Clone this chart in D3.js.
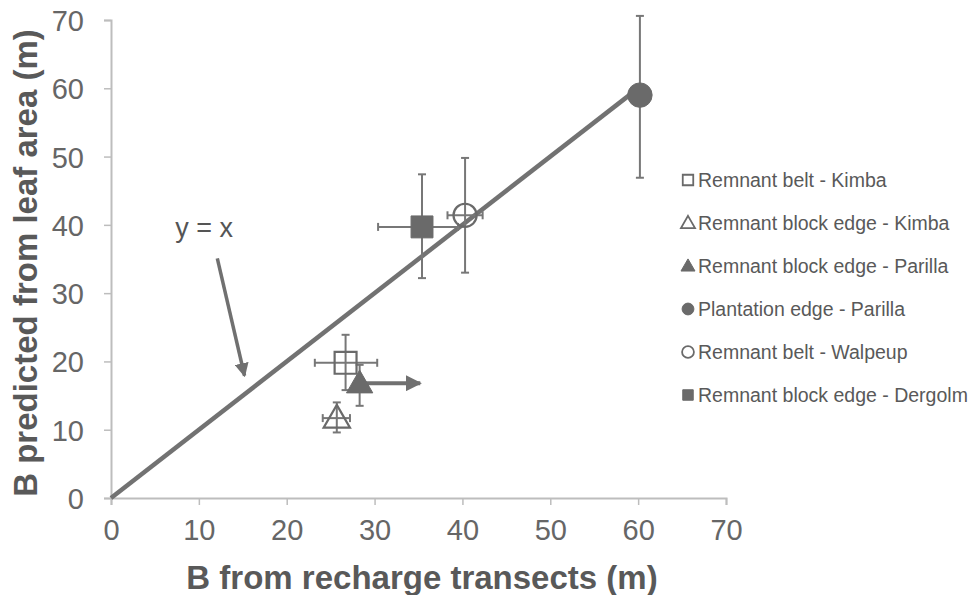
<!DOCTYPE html>
<html>
<head>
<meta charset="utf-8">
<script src="https://cdn.jsdelivr.net/npm/d3@7"></script>
<style>
  body { margin: 0; background: #fff; }
  svg { font-family: "Liberation Sans", Arial, sans-serif; }
</style>
</head>
<body>
<svg id="chart" width="968" height="595"></svg>
<script>
// series
var names = ["Remnant belt - Kimba", "Remnant block edge - Kimba", "Remnant block edge - Parilla",
             "Plantation edge - Parilla", "Remnant belt - Walpeup", "Remnant block edge - Dergolm"];
var symbols = ["square", "triangle", "triangle", "circle", "circle", "square"];
var filled = [false, false, true, true, false, true];
var xVals = [26.7, 25.7, 28.3, 60.2, 40.3, 35.4];
var yVals = [19.8, 11.7, 16.8, 59.0, 41.4, 39.7];
var xLow  = [23.2, 24.1, null, null, 38.3, 30.4];
var xHigh = [30.3, 27.2, null, null, 42.3, 39.5];
var yLow  = [15.8, 9.6, 13.5, 46.9, 33.0, 32.2];
var yHigh = [23.9, 14.0, 19.5, 70.6, 49.8, 47.4];
var arrowTo = [null, null, 35.2, null, null, null];

var ticks = [0, 10, 20, 30, 40, 50, 60, 70];
var oneToOne = [0, 59];

var svg = d3.select("svg#chart");
var grey = "#6a6a6a";

var x = d3.scaleLinear().domain([0, 70]).range([111, 726]);
var y = d3.scaleLinear().domain([0, 70]).range([498, 20]);

var defs = svg.append("defs");
defs.append("marker")
    .attr("id", "head")
    .attr("viewBox", "0 0 10 10")
    .attr("refX", 9).attr("refY", 5)
    .attr("markerWidth", 4).attr("markerHeight", 4)
    .attr("markerUnits", "strokeWidth")
    .attr("orient", "auto")
    .append("path")
    .attr("d", "M0,0L10,5L0,10Z")
    .attr("fill", "#707070");

// axes
var xAxis = svg.append("g")
    .attr("transform", "translate(0,498)")
    .call(d3.axisBottom(x).tickValues(ticks).tickSize(7).tickPadding(14));
var yAxis = svg.append("g")
    .attr("transform", "translate(111,0)")
    .call(d3.axisLeft(y).tickValues(ticks).tickSize(7).tickPadding(20));

[xAxis, yAxis].forEach(function(a) {
    a.select(".domain").attr("stroke", "#bdbdbd").attr("stroke-width", 2);
    a.selectAll(".tick line").attr("stroke", "#bdbdbd").attr("stroke-width", 1.5);
    a.selectAll(".tick text")
        .attr("fill", "#666")
        .style("font-size", "29px")
        .style("font-family", "Liberation Sans, Arial, sans-serif");
});
yAxis.selectAll(".tick text").attr("dy", "0.36em");

svg.append("text")
    .attr("x", 422).attr("y", 589)
    .attr("text-anchor", "middle")
    .attr("fill", "#595959")
    .style("font-size", "33px").style("font-weight", "bold")
    .text("B from recharge transects (m)");

svg.append("text")
    .attr("transform", "translate(37,263) rotate(-90)")
    .attr("text-anchor", "middle")
    .attr("fill", "#595959")
    .style("font-size", "33px").style("font-weight", "bold")
    .text("B predicted from leaf area (m)");

// y = x line
svg.append("line")
    .attr("x1", x(oneToOne[0])).attr("y1", y(oneToOne[0]))
    .attr("x2", x(oneToOne[1])).attr("y2", y(oneToOne[1]))
    .attr("stroke", "#727272")
    .attr("stroke-width", 4.5);

svg.append("text")
    .attr("x", x(10.6)).attr("y", y(38.2))
    .attr("text-anchor", "middle")
    .attr("fill", "#555")
    .style("font-size", "27px")
    .text("y = x");

svg.append("line")
    .attr("x1", x(12.1)).attr("y1", y(35.1))
    .attr("x2", x(15.2)).attr("y2", y(17.9))
    .attr("stroke", "#707070")
    .attr("stroke-width", 3.5)
    .attr("marker-end", "url(#head)");

// error bars
var idx = d3.range(names.length);
var err = svg.append("g").attr("stroke", "#777").attr("stroke-width", 2);
var cap = 4;

idx.forEach(function(i) {
    var cx = x(xVals[i]), cy = y(yVals[i]);
    if (yLow[i] != null) {
        err.append("line").attr("x1", cx).attr("x2", cx)
            .attr("y1", y(yLow[i])).attr("y2", y(yHigh[i]));
        err.append("line").attr("x1", cx - cap).attr("x2", cx + cap)
            .attr("y1", y(yLow[i])).attr("y2", y(yLow[i]));
        err.append("line").attr("x1", cx - cap).attr("x2", cx + cap)
            .attr("y1", y(yHigh[i])).attr("y2", y(yHigh[i]));
    }
    if (xLow[i] != null) {
        err.append("line").attr("y1", cy).attr("y2", cy)
            .attr("x1", x(xLow[i])).attr("x2", x(xHigh[i]));
        err.append("line").attr("y1", cy - cap).attr("y2", cy + cap)
            .attr("x1", x(xLow[i])).attr("x2", x(xLow[i]));
        err.append("line").attr("y1", cy - cap).attr("y2", cy + cap)
            .attr("x1", x(xHigh[i])).attr("x2", x(xHigh[i]));
    }
    if (arrowTo[i] != null) {
        svg.append("line")
            .attr("x1", cx).attr("y1", cy)
            .attr("x2", x(arrowTo[i])).attr("y2", cy)
            .attr("stroke", "#707070")
            .attr("stroke-width", 4)
            .attr("marker-end", "url(#head)");
    }
});

// markers
function shape(s, size) {
    var t = s === "square" ? d3.symbolSquare : s === "triangle" ? d3.symbolTriangle : d3.symbolCircle;
    return d3.symbol().type(t).size(size)();
}

var sizes = { square: 480, triangle: 300, circle: 420 };
var plantSize = 470;

svg.append("g").selectAll("path")
    .data(idx)
    .enter().append("path")
    .attr("transform", function(i) {
        var dy = symbols[i] === "triangle" ? 2 : 0;
        return "translate(" + x(xVals[i]) + "," + (y(yVals[i]) + dy) + ")";
    })
    .attr("d", function(i) { return shape(symbols[i], i === 3 ? plantSize : sizes[symbols[i]]); })
    .attr("fill", function(i) { return filled[i] ? grey : "none"; })
    .attr("stroke", grey)
    .attr("stroke-width", function(i) { return filled[i] ? 1 : 2.2; });

// legend
var legend = svg.append("g")
    .selectAll("g")
    .data(idx)
    .enter().append("g")
    .attr("transform", function(i) { return "translate(688," + (180 + i * 43) + ")"; });

legend.append("path")
    .attr("d", function(i) { return shape(symbols[i], symbols[i] === "triangle" ? 85 : 110); })
    .attr("transform", function(i) { return symbols[i] === "triangle" ? "translate(0,1)" : null; })
    .attr("fill", function(i) { return filled[i] ? grey : "none"; })
    .attr("stroke", grey)
    .attr("stroke-width", function(i) { return filled[i] ? 1 : 1.8; });

legend.append("text")
    .attr("x", 10)
    .attr("dy", "0.36em")
    .attr("fill", "#595959")
    .style("font-size", "19.5px")
    .text(function(i) { return names[i]; });
</script>
</body>
</html>
